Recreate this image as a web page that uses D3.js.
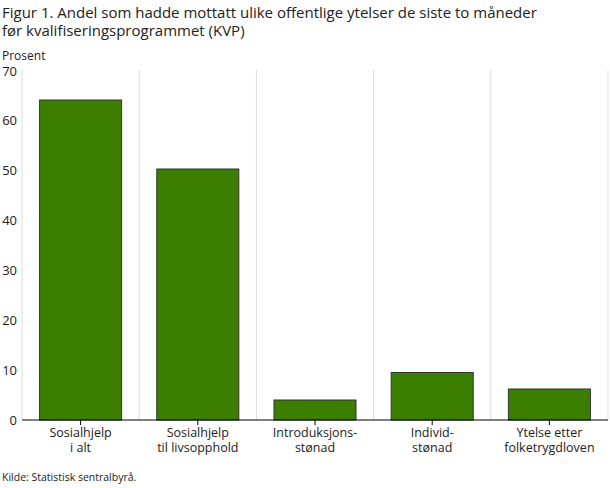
<!DOCTYPE html>
<html><head><meta charset="utf-8">
<script src="https://cdn.jsdelivr.net/npm/d3@7"></script>
<style>body{margin:0;background:#fff}text{font-family:"Open Sans",sans-serif}</style>
</head><body><svg id="c" width="610" height="488"></svg>
<script>
const categories = [["Sosialhjelp","i alt"],["Sosialhjelp","til livsopphold"],["Introduksjons-","stønad"],["Individ-","stønad"],["Ytelse etter","folketrygdloven"]];
const values = [64, 50.2, 4, 9.5, 6.2];
const yTicks = [0,10,20,30,40,50,60,70];
const svg = d3.select("#c");
const L=22,R=608,T=70,B=420;
const x = d3.scaleBand().domain(d3.range(categories.length)).range([L,R]).paddingInner(0.3).paddingOuter(0.15);
const y = d3.scaleLinear().domain([0,70]).range([B,T]);
svg.append("text").attr("x",2).attr("y",18).attr("font-size",15).attr("fill","#222").text("Figur 1. Andel som hadde mottatt ulike offentlige ytelser de siste to måneder");
svg.append("text").attr("x",2).attr("y",36).attr("font-size",15).attr("fill","#222").text("før kvalifiseringsprogrammet (KVP)");
svg.append("text").attr("x",2).attr("y",60).attr("font-size",12).attr("fill","#222").text("Prosent");
const step=(R-L)/categories.length;
for(let i=1;i<=categories.length;i++) svg.append("line").attr("x1",L+i*step).attr("x2",L+i*step).attr("y1",T).attr("y2",B).attr("stroke","#ddd");
svg.append("line").attr("x1",L).attr("x2",L).attr("y1",T).attr("y2",B).attr("stroke","#ddd");
yTicks.forEach(t=>{svg.append("text").attr("x",17).attr("y",y(t)+(t===70?6:5)).attr("text-anchor","end").attr("font-size",13).attr("fill","#222").text(t);});
svg.selectAll("rect.bar").data(values).enter().append("rect").attr("x",(d,i)=>x(i)).attr("width",x.bandwidth()).attr("y",d=>y(d)).attr("height",d=>B-y(d)).attr("fill","#3b7e00").attr("stroke","#333").attr("stroke-width",1);
svg.append("line").attr("x1",L).attr("x2",R).attr("y1",B).attr("y2",B).attr("stroke","#000");
categories.forEach((c,i)=>{const cx=x(i)+x.bandwidth()/2;
 svg.append("line").attr("x1",L+(i+0.5)*step).attr("x2",L+(i+0.5)*step).attr("y1",B).attr("y2",B+5).attr("stroke","#000");
 c.forEach((s,j)=>svg.append("text").attr("x",cx).attr("y",437+j*15).attr("text-anchor","middle").attr("font-size",12.5).attr("fill","#222").text(s));});
svg.append("text").attr("x",2).attr("y",481).attr("font-size",10.5).attr("fill","#222").text("Kilde: Statistisk sentralbyrå.");
</script></body></html>
